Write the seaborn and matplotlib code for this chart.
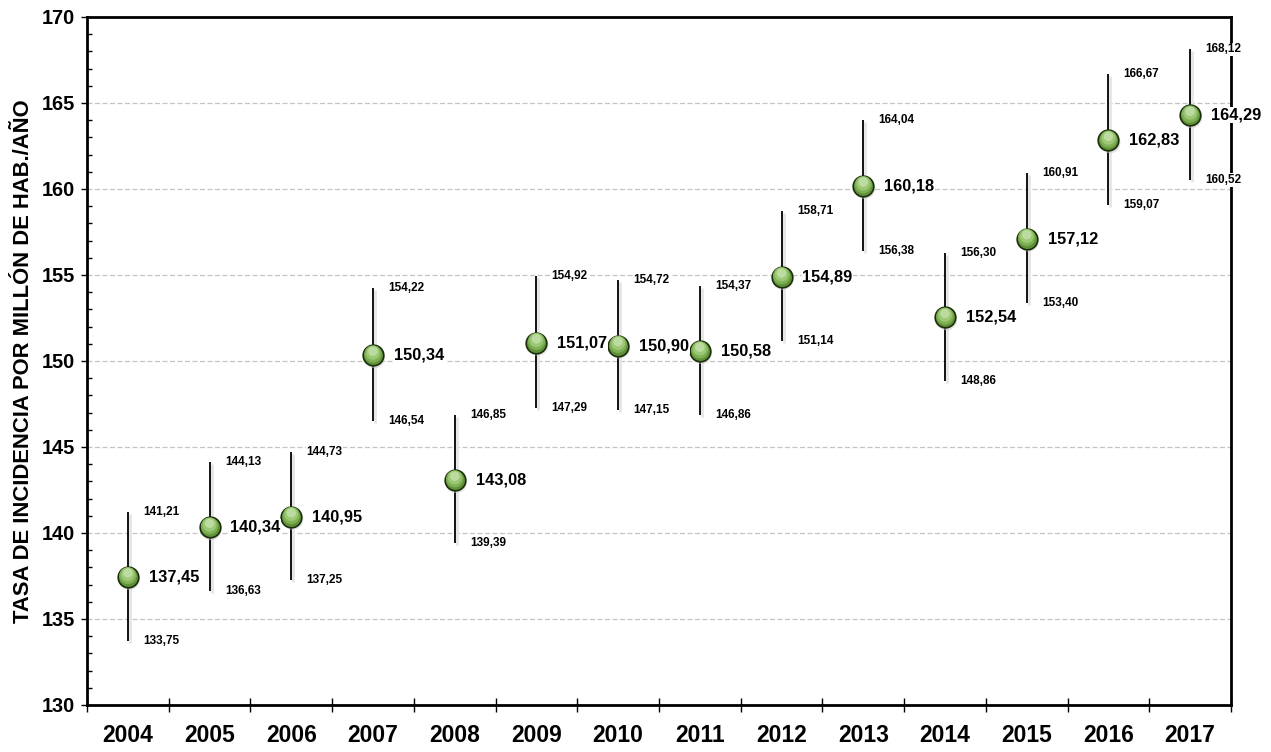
import matplotlib
matplotlib.use("Agg")
import matplotlib.pyplot as plt
import matplotlib.transforms as mtransforms
import seaborn as sns
import numpy as np
import pandas as pd
from matplotlib.ticker import MultipleLocator, FixedLocator

years = ["2004", "2005", "2006", "2007", "2008", "2009", "2010",
         "2011", "2012", "2013", "2014", "2015", "2016", "2017"]
mean_vals = [137.45, 140.34, 140.95, 150.34, 143.08, 151.07, 150.90,
             150.58, 154.89, 160.18, 152.54, 157.12, 162.83, 164.29]
upper_vals = [141.21, 144.13, 144.73, 154.22, 146.85, 154.92, 154.72,
              154.37, 158.71, 164.04, 156.30, 160.91, 166.67, 168.12]
lower_vals = [133.75, 136.63, 137.25, 146.54, 139.39, 147.29, 147.15,
              146.86, 151.14, 156.38, 148.86, 153.40, 159.07, 160.52]
y_label = "TASA DE INCIDENCIA POR MILLÓN DE HAB./AÑO"

sns.set_style("white")
plt.rcParams['font.family'] = ['Liberation Sans', 'DejaVu Sans']
plt.rcParams['text.color'] = 'black'
plt.rcParams['axes.labelcolor'] = 'black'
plt.rcParams['xtick.color'] = 'black'
plt.rcParams['ytick.color'] = 'black'

df = pd.DataFrame({"year": years, "mean": mean_vals,
                   "upper": upper_vals, "lower": lower_vals})
df["pos"] = np.arange(len(df))

fig = plt.figure(figsize=(12.71, 7.52), dpi=100)
ax = fig.add_axes([87/1271, 47/752, (1231-87)/1271, (705-17)/752])

def shifted(dx, dy):
    return ax.transData + mtransforms.ScaledTranslation(dx / 100, dy / 100, fig.dpi_scale_trans)

# grid
for v in range(135, 170, 5):
    ax.axhline(v, color="#c4c4c4", lw=0.9, ls=(0, (4, 2)), zorder=0)

# soft shadow of the whiskers
ax.vlines(df["pos"], df["lower"], df["upper"], color="#e6e6e6", lw=2.0,
          zorder=1, transform=shifted(2, -2))
ax.vlines(df["pos"], df["lower"], df["upper"], color="black", lw=1.3, zorder=2)

# marker shadow
n0 = len(ax.collections)
sns.scatterplot(data=df, x="pos", y="mean", ax=ax, s=230, color="#c8c8c8",
                edgecolor="none", linewidth=0, zorder=2.5, legend=False, alpha=0.5)
ax.collections[n0].set_offset_transform(shifted(1.5, -2.5))

# marker with vertical gradient look
layers = [(220, "#5f9037", "#1a2e0c", 1.2, 0.0),
          (155, "#7fb055", "none", 0, 1.2),
          (98, "#9cc874", "none", 0, 2.4),
          (46, "#bcdba0", "none", 0, 3.8)]
for s, fc, ec, lw, dy in layers:
    n0 = len(ax.collections)
    sns.scatterplot(data=df, x="pos", y="mean", ax=ax, s=s, color=fc,
                    edgecolor=ec, linewidth=lw, zorder=3, legend=False)
    if dy:
        ax.collections[n0].set_offset_transform(shifted(0, dy))

def fmt(v):
    return f"{v:.2f}".replace(".", ",")

bb = dict(facecolor="white", edgecolor="none", pad=0.5)
for _, r in df.iterrows():
    ax.annotate(fmt(r["mean"]), (r["pos"], r["mean"]), xytext=(15, 0),
                textcoords="offset points", ha="left", va="center",
                fontsize=11.8, fontweight="bold", zorder=5, bbox=bb,
                annotation_clip=False)
    ax.annotate(fmt(r["upper"]), (r["pos"], r["upper"]), xytext=(11, 0),
                textcoords="offset points", ha="left", va="center",
                fontsize=8.5, fontweight="bold", zorder=5, bbox=bb,
                annotation_clip=False)
    ax.annotate(fmt(r["lower"]), (r["pos"], r["lower"]), xytext=(11, 0),
                textcoords="offset points", ha="left", va="center",
                fontsize=8.5, fontweight="bold", zorder=5, bbox=bb,
                annotation_clip=False)

ax.set_xlim(-0.5, len(df) - 0.5)
ax.set_ylim(130, 170)
ax.yaxis.set_major_locator(MultipleLocator(5))
ax.yaxis.set_minor_locator(MultipleLocator(1))
ax.set_xticks(df["pos"])
ax.set_xticklabels(years)
ax.xaxis.set_minor_locator(FixedLocator(np.arange(-0.5, len(df), 1.0)))

ax.tick_params(axis="x", which="major", length=0, pad=14, labelsize=16.5)
ax.tick_params(axis="x", which="minor", direction="inout", length=10,
               width=1.0, bottom=True)
ax.tick_params(axis="y", which="major", direction="out", length=4.5,
               width=1.0, labelsize=14.4, left=True, pad=4)
ax.tick_params(axis="y", which="minor", direction="in", length=3.6,
               width=1.0, left=True)
for lbl in ax.get_xticklabels() + ax.get_yticklabels():
    lbl.set_fontweight("bold")

for s in ["left", "bottom", "top", "right"]:
    ax.spines[s].set_visible(True)
    ax.spines[s].set_color("black")
    ax.spines[s].set_linewidth(2.0)
ax.spines["right"].set_zorder(1)

ax.set_xlabel("")
ax.set_ylabel(y_label, fontsize=15.8, fontweight="bold", labelpad=6)

fig.savefig("out.png", dpi=100)
